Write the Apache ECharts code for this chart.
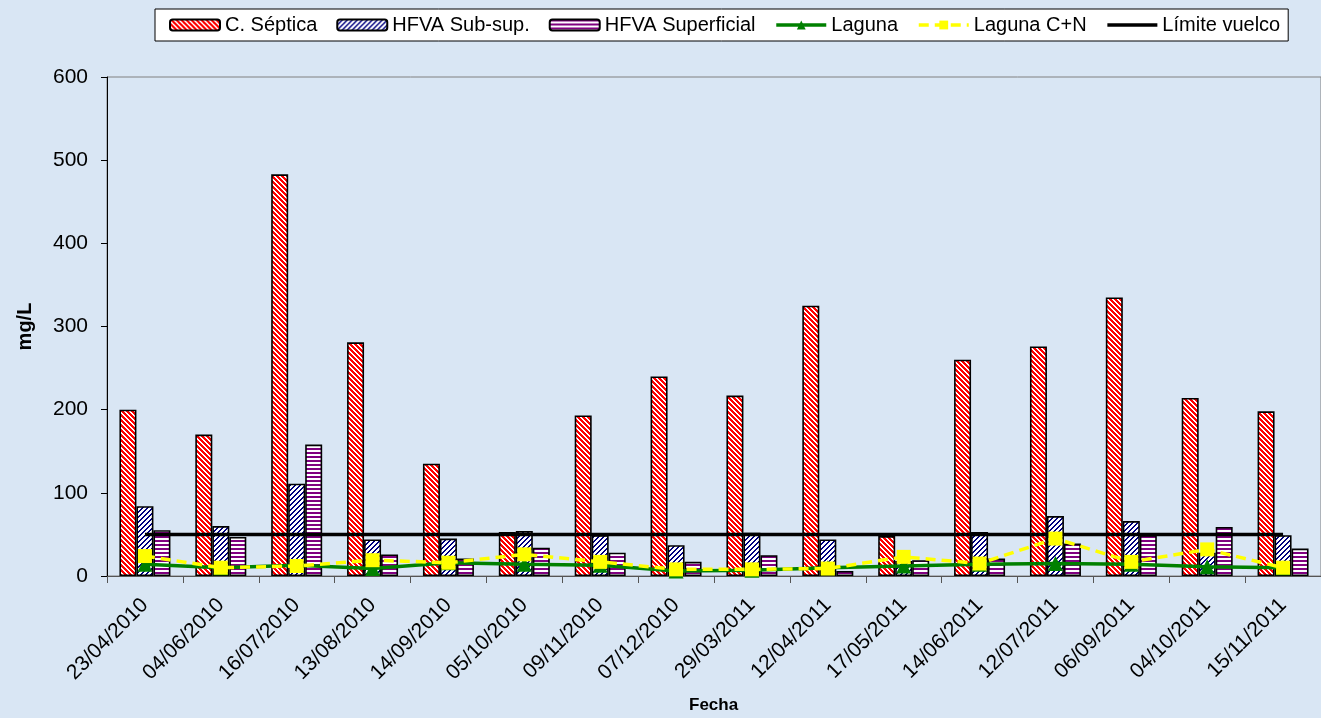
<!DOCTYPE html>
<html>
<head>
<meta charset="utf-8">
<script src="https://cdn.jsdelivr.net/npm/echarts@6/dist/echarts.min.js"></script>
<style>
  html, body { margin: 0; padding: 0; background: #d9e6f4; }
  #chart { width: 1321px; height: 718px; }
</style>
</head>
<body>
<div id="chart"></div>
<script>
// Sampling dates (category axis)
const fechas = ['23/04/2010', '04/06/2010', '16/07/2010', '13/08/2010', '14/09/2010',
  '05/10/2010', '09/11/2010', '07/12/2010', '29/03/2011', '12/04/2011', '17/05/2011',
  '14/06/2011', '12/07/2011', '06/09/2011', '04/10/2011', '15/11/2011'];

// Concentrations, mg/L
const cSeptica = [200, 170, 483, 281, 135, 53, 193, 240, 217, 325, 48, 260, 276, 335, 214, 198];
const hfvaSub = [84, 60, 111, 44, 45, 54, 49, 37, 52, 44, 18, 53, 72, 66, 28, 49];
const hfvaSup = [55, 47, 158, 26, 21, 34, 28, 17, 25, 6, 19, 21, 39, 49, 59, 33];
const laguna = [14, 10, 13, 9, 16, 14, 13, 6, 7, 10, 12, 14, 15, 14, 11, 10];
const lagunaCN = [24, 10, 12, 19, 16, 26, 17, 8, 8, 9, 23, 15, 45, 17, 32, 10];
const limiteVuelco = [50, 50, 50, 50, 50, 50, 50, 50, 50, 50, 50, 50, 50, 50, 50, 50];

// Y axis ticks
const yMin = 0, yMax = 600, yStep = 100;

// Pixel-aligned hatch tiles: 'back' = \\\ , 'fwd' = ///, 'h' = horizontal
function hatch(kind, color, size, ink) {
  const c = document.createElement('canvas');
  c.width = size; c.height = size;
  const g = c.getContext('2d');
  g.fillStyle = '#ffffff';
  g.fillRect(0, 0, size, size);
  g.fillStyle = color;
  for (let y = 0; y < size; y++) {
    if (kind === 'h') {
      if (y < ink) g.fillRect(0, y, size, 1);
    } else {
      for (let k = 0; k < ink; k++) {
        const x = kind === 'back' ? (y + k) % size : (size - 1 - y + k + size) % size;
        g.fillRect(x, y, 1, 1);
      }
    }
  }
  return { image: c, repeat: 'repeat' };
}

const font = 'Liberation Sans, Arial, sans-serif';
const chart = echarts.init(document.getElementById('chart'), null, { renderer: 'canvas' });

const barCommon = {
  type: 'bar',
  barWidth: 17,
  barGap: '0%',
  emphasis: { disabled: true }
};

chart.setOption({
  backgroundColor: '#d9e6f4',
  animation: false,
  textStyle: { fontFamily: font, color: '#000' },
  legend: {
    left: 155,
    top: 9,
    padding: [6, 8, 6, 14],
    backgroundColor: '#ffffff',
    borderColor: '#000000',
    borderWidth: 1,
    itemWidth: 50,
    itemHeight: 11,
    itemGap: 19,
    textStyle: { fontFamily: font, fontSize: 20, color: '#000' },
    data: [
      'C. Séptica',
      'HFVA Sub-sup.',
      'HFVA Superficial',
      { name: 'Laguna', lineStyle: { width: 3.5 } },
      { name: 'Laguna C+N', lineStyle: { width: 3.5 } },
      { name: 'Límite vuelco', lineStyle: { width: 3.5 }, itemStyle: { opacity: 0 } }
    ]
  },
  grid: {
    left: 107,
    right: -18,
    top: 77,
    bottom: 142,
    show: true,
    borderColor: '#808080',
    borderWidth: 1,
    backgroundColor: 'transparent'
  },
  xAxis: {
    type: 'category',
    data: fechas,
    boundaryGap: true,
    axisLine: { lineStyle: { color: '#555555', width: 1 } },
    axisTick: { show: true, length: 7, interval: 0, lineStyle: { color: '#555555' } },
    axisLabel: {
      interval: 0,
      rotate: 45,
      margin: 26,
      fontFamily: font,
      fontSize: 21,
      color: '#000'
    },
    splitLine: { show: false }
  },
  yAxis: {
    type: 'value',
    min: yMin,
    max: yMax,
    interval: yStep,
    name: 'mg/L',
    nameLocation: 'middle',
    nameRotate: 90,
    nameGap: 72,
    nameTextStyle: { fontFamily: font, fontSize: 20, fontWeight: 'bold', color: '#000' },
    axisLine: { show: true, lineStyle: { color: '#000000', width: 1 } },
    axisTick: { show: true, length: 6, lineStyle: { color: '#000000' } },
    axisLabel: { margin: 19, fontFamily: font, fontSize: 21, color: '#000' },
    splitLine: { show: false }
  },
  graphic: [{
    type: 'text',
    left: 689,
    top: 697,
    style: { text: 'Fecha', font: 'bold 17px ' + font, fill: '#000' }
  }],
  series: [
    Object.assign({}, barCommon, {
      name: 'C. Séptica',
      data: cSeptica,
      itemStyle: { color: hatch('back', '#ff0000', 5, 3), borderColor: '#000000', borderWidth: 1.6 }
    }),
    Object.assign({}, barCommon, {
      name: 'HFVA Sub-sup.',
      data: hfvaSub,
      itemStyle: { color: hatch('fwd', '#000080', 5, 2), borderColor: '#000000', borderWidth: 1.6 }
    }),
    Object.assign({}, barCommon, {
      name: 'HFVA Superficial',
      data: hfvaSup,
      itemStyle: { color: hatch('h', '#800080', 4, 2), borderColor: '#000000', borderWidth: 1.6 }
    }),
    {
      name: 'Laguna',
      type: 'line',
      data: laguna,
      z: 4,
      symbol: 'triangle',
      symbolSize: 15,
      color: '#008000',
      lineStyle: { color: '#008000', width: 3.5 },
      itemStyle: { color: '#008000' },
      emphasis: { disabled: true }
    },
    {
      name: 'Laguna C+N',
      type: 'line',
      data: lagunaCN,
      z: 5,
      symbol: 'rect',
      symbolSize: 14,
      color: '#ffff00',
      lineStyle: { color: '#ffff00', width: 3.5, type: [10, 6] },
      itemStyle: { color: '#ffff00' },
      emphasis: { disabled: true }
    },
    {
      name: 'Límite vuelco',
      type: 'line',
      data: limiteVuelco,
      z: 3,
      symbol: 'none',
      color: '#000000',
      lineStyle: { color: '#000000', width: 3.5 },
      emphasis: { disabled: true }
    }
  ]
});
</script>
</body>
</html>
